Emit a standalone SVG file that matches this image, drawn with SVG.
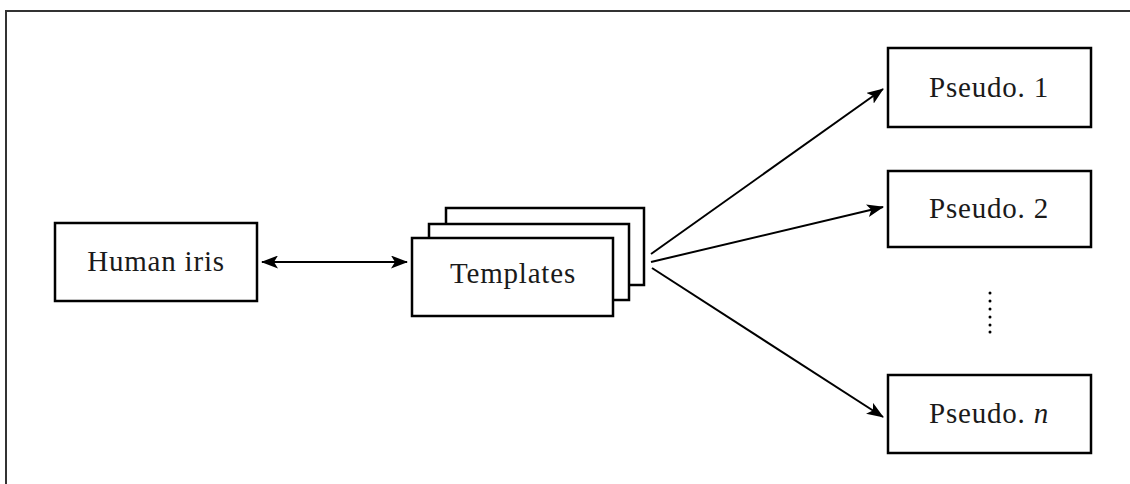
<svg xmlns="http://www.w3.org/2000/svg" width="1130" height="484" viewBox="0 0 1130 484">
<style>
.box{fill:#fff;stroke:#000;stroke-width:2.5}
.lbl{font-family:"Liberation Serif","DejaVu Serif",serif;font-size:29px;letter-spacing:0.8px;fill:#1a1a1a;text-anchor:middle}
.con{stroke:#000;stroke-width:2;fill:none}
</style>
<defs>
<marker id="ah" markerWidth="17" markerHeight="13" refX="16" refY="6.5" orient="auto-start-reverse" markerUnits="userSpaceOnUse">
<path d="M0,0 L17,6.5 L0,13 L4,6.5 Z" fill="#000"/>
</marker>
</defs>
<rect width="1130" height="484" fill="#fff"/>
<path d="M6,490 L6,11 L1135,11" fill="none" stroke="#333" stroke-width="2"/>
<g id="human-iris">
<rect class="box" x="55" y="223" width="202" height="78"/>
<text class="lbl" x="156" y="271">Human iris</text>
</g>
<g id="templates">
<rect class="box" x="446" y="208" width="198" height="77"/>
<rect class="box" x="429" y="224" width="200" height="76"/>
<rect class="box" x="412" y="238" width="201" height="78"/>
<text class="lbl" x="513" y="283">Templates</text>
</g>
<g id="pseudo-1">
<rect class="box" x="888" y="48" width="203" height="79"/>
<text class="lbl" x="989" y="97">Pseudo. 1</text>
</g>
<g id="pseudo-2">
<rect class="box" x="888" y="171" width="203" height="76"/>
<text class="lbl" x="989" y="218">Pseudo. 2</text>
</g>
<g id="ellipsis">
<g fill="#000">
<circle cx="990" cy="293" r="1.5"/>
<circle cx="990" cy="301" r="1.5"/>
<circle cx="990" cy="309" r="1.5"/>
<circle cx="990" cy="317" r="1.5"/>
<circle cx="990" cy="325" r="1.5"/>
<circle cx="990" cy="332" r="1.5"/>
</g>
</g>
<g id="pseudo-n">
<rect class="box" x="888" y="375" width="203" height="78"/>
<text class="lbl" x="989" y="423">Pseudo. <tspan font-style="italic">n</tspan></text>
</g>
<g id="connectors">
<line class="con" x1="262" y1="262" x2="407" y2="262" marker-start="url(#ah)" marker-end="url(#ah)"/>
<line class="con" x1="651" y1="254" x2="883" y2="89" marker-end="url(#ah)"/>
<line class="con" x1="651" y1="262" x2="883" y2="207" marker-end="url(#ah)"/>
<line class="con" x1="652" y1="268" x2="883" y2="417" marker-end="url(#ah)"/>
</g>
</svg>
